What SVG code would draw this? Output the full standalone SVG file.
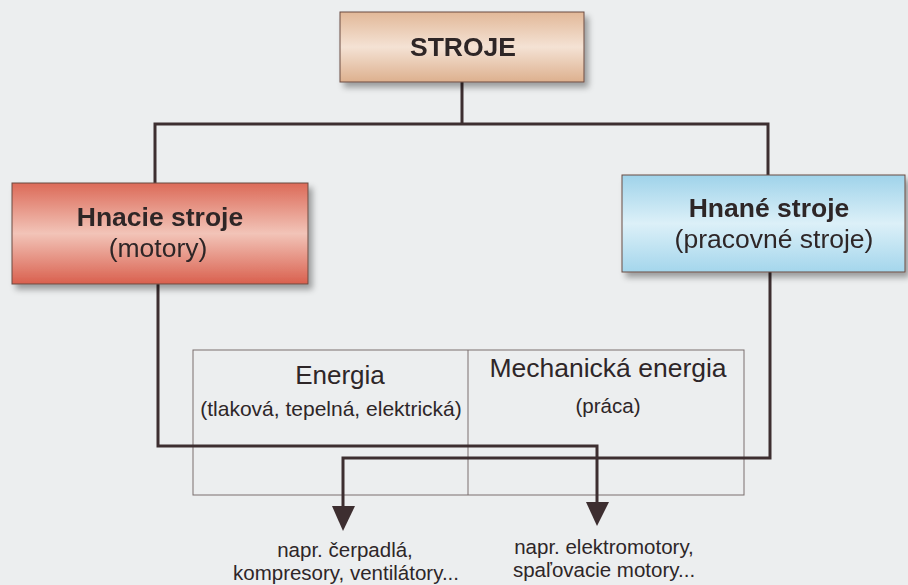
<svg xmlns="http://www.w3.org/2000/svg" width="908" height="585" viewBox="0 0 908 585">
  <defs>
    <linearGradient id="gTan" x1="0" y1="0" x2="0" y2="1">
      <stop offset="0" stop-color="#e2b898"/>
      <stop offset="0.5" stop-color="#f4e2d4"/>
      <stop offset="1" stop-color="#ddb08e"/>
    </linearGradient>
    <linearGradient id="gRed" x1="0" y1="0" x2="0" y2="1">
      <stop offset="0" stop-color="#dc6a58"/>
      <stop offset="0.5" stop-color="#f2c4b8"/>
      <stop offset="1" stop-color="#d9604e"/>
    </linearGradient>
    <linearGradient id="gBlue" x1="0" y1="0" x2="0" y2="1">
      <stop offset="0" stop-color="#9fd3ea"/>
      <stop offset="0.5" stop-color="#dcf0f8"/>
      <stop offset="1" stop-color="#a4d6ec"/>
    </linearGradient>
    <filter id="shadow" x="-5%" y="-10%" width="115%" height="130%">
      <feGaussianBlur in="SourceAlpha" stdDeviation="3"/>
      <feOffset dx="4" dy="5" result="b"/>
      <feComponentTransfer><feFuncA type="linear" slope="0.35"/></feComponentTransfer>
      <feMerge><feMergeNode/><feMergeNode in="SourceGraphic"/></feMerge>
    </filter>
    <style>
      .box { stroke: #6b4a40; stroke-width: 1; }
      .t { font-family: "Liberation Sans", Arial, sans-serif; fill: #2e2628; text-anchor: middle; }
      .b { font-weight: bold; }
      .h { font-size: 26.5px; }
      .link { fill: none; stroke: #3d2e30; stroke-width: 3; }
      .head { fill: #3d2e30; }
      .grid { fill: none; stroke: #7a6e6e; stroke-width: 1; }
      .ex { font-size: 20.5px; }
    </style>
  </defs>

  <rect width="908" height="585" fill="#eceeef"/>

  <!-- energy table -->
  <g id="table">
    <rect class="grid" x="193" y="350" width="551" height="145"/>
    <line class="grid" x1="468" y1="350" x2="468" y2="495"/>
    <text class="t" x="340" y="384" font-size="26">Energia</text>
    <text class="t" x="331" y="416" font-size="21">(tlaková, tepelná, elektrická)</text>
    <text class="t" x="608" y="377" font-size="26.5">Mechanická energia</text>
    <text class="t" x="608" y="413" font-size="20.5">(práca)</text>
  </g>

  <!-- connectors -->
  <g id="connectors">
    <path class="link" d="M462,82 V124"/>
    <path class="link" d="M155,183 V124 H768 V175"/>
    <path class="link" d="M158,284 V446 H597 V508"/>
    <path class="link" d="M770,272 V458 H343 V512"/>
    <path class="head" d="M586,502 L609,502 L597,526 Z"/>
    <path class="head" d="M332,506 L355,506 L343,531 Z"/>
  </g>

  <g id="stroje" filter="url(#shadow)">
    <rect class="box" x="340" y="12" width="244" height="70" fill="url(#gTan)"/>
    <text class="t b h" x="463" y="56">STROJE</text>
  </g>

  <g id="hnacie" filter="url(#shadow)">
    <rect class="box" x="12" y="183" width="296" height="101" fill="url(#gRed)"/>
    <text class="t b h" x="160" y="226">Hnacie stroje</text>
    <text class="t h" x="158" y="257">(motory)</text>
  </g>

  <g id="hnane" filter="url(#shadow)">
    <rect class="box" x="622" y="175" width="283" height="97" fill="url(#gBlue)"/>
    <text class="t b h" x="769" y="217">Hnané stroje</text>
    <text class="t h" x="774" y="248">(pracovné stroje)</text>
  </g>

  <g id="examples-left">
    <text class="t ex" x="345" y="557">napr. čerpadlá,</text>
    <text class="t ex" x="346" y="580">kompresory, ventilátory...</text>
  </g>
  <g id="examples-right">
    <text class="t ex" x="604" y="554">napr. elektromotory,</text>
    <text class="t ex" x="604" y="577">spaľovacie motory...</text>
  </g>
</svg>
